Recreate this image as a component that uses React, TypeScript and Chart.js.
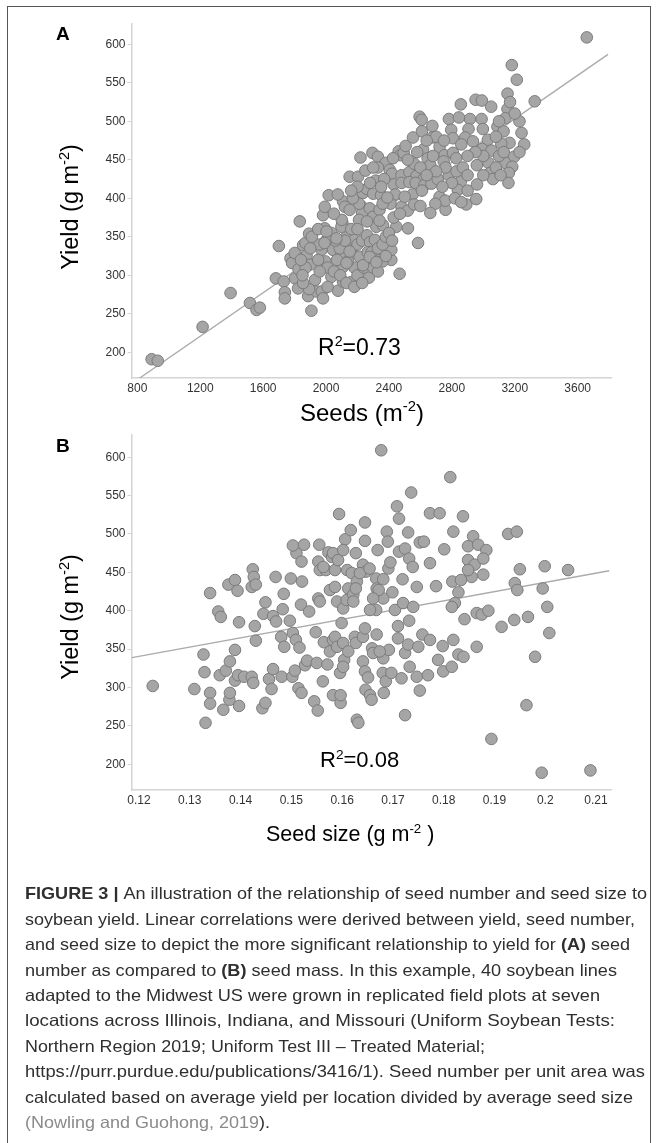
import React, { useEffect, useRef } from "react";
import { Chart, registerables } from "chart.js";

Chart.register(...registerables);

// ---------- Panel A: seeds per m2 vs yield ----------
const SEEDS = [
  891, 930, 1215, 1393, 1516, 1558, 1579, 1681, 1700, 1731, 1738, 1738, 1774, 1784, 1801, 1833, 1803, 1822, 1825, 1854,
  1869, 1876, 1892, 1886, 1907, 1901, 1930, 1939, 1973, 1981, 1981, 1992, 1992, 1996, 2034, 2034, 2076, 2045, 2098, 2108,
  2120, 2104, 2125, 2157, 2108, 2172, 1892, 1971, 2017, 1854, 2108, 2225, 2273, 2341, 2415, 2415, 2447, 2521, 2585, 2468,
  2161, 2214, 2087, 2098, 2150, 2203, 2219, 2250, 2295, 2330, 2316, 2235, 2229, 2229, 2278, 2299, 2320, 2362, 2379, 2405,
  2462, 2473, 2426, 2494, 2506, 2553, 2595, 2608, 2610, 2676, 2676, 2617, 2646, 2663, 2722, 2754, 2807, 2828, 2748, 2781,
  2796, 2807, 2857, 2915, 2989, 2951, 2991, 3050, 3154, 3141, 3090, 3243, 3129, 3167, 2906, 2997, 2885, 2934, 3029, 3114,
  2993, 3052, 3196, 3139, 3184, 3033, 3044, 3162, 3160, 3061, 2959, 2857, 2838, 2892, 2955, 2760, 2722, 2758, 2695, 2663,
  3181, 3213, 3154, 3327, 3658, 2420, 2480, 2530, 2575, 2620, 2430, 2480, 2530, 2570, 2625, 2670, 2710, 2260, 2300, 2350,
  2440, 2550, 2610, 2210, 2340, 2480, 2520, 2560, 2100, 2210, 2260, 2340, 2430, 2470, 2410, 2360, 2390, 2500, 2600, 2180,
  2200, 2230, 2260, 2280, 2310, 2265, 2290, 2330, 2360, 2380, 2400, 2420, 2180, 2200, 2240, 2270, 2300, 2330, 2360, 2380,
  2140, 2120, 2060, 2070, 2000, 1960, 1950, 2010, 2050, 2090, 2130, 2180, 2230, 2010, 1960, 1900, 1870, 1850, 1840, 1910,
  1950, 2050, 2150, 2170, 2160, 2200, 2280, 2330, 2370, 2350, 2300, 2200, 2160, 2075, 2780, 2800, 2830, 2870, 2900, 2760,
  2700, 2740, 2820, 2860, 2900, 2960, 3000, 3080, 3100, 3000, 2950, 2900, 2860, 2700, 2640, 2580, 2560, 2520, 2600, 2640,
  2680, 2750, 2845, 3230, 3200, 3170, 3260, 3230, 3100, 3080, 3110, 3130, 2003, 2066, 1990, 2150, 2130, 2235, 2278, 2320,
];
const YIELD_A = [
  191, 189, 233, 277, 264, 255, 258, 296, 338, 292, 278, 270, 322, 316, 329, 370, 296, 283, 308, 339,
  342, 326, 354, 273, 254, 314, 294, 279, 279, 270, 378, 389, 361, 318, 298, 355, 280, 333, 329, 396,
  389, 368, 349, 291, 311, 337, 282, 333, 404, 290, 292, 309, 297, 320, 320, 333, 363, 361, 342, 302,
  329, 324, 335, 363, 428, 428, 453, 436, 459, 454, 423, 407, 389, 381, 387, 376, 363, 365, 446, 437,
  461, 456, 452, 459, 468, 479, 506, 502, 487, 494, 479, 463, 452, 443, 467, 456, 459, 452, 448, 503,
  489, 478, 522, 503, 503, 528, 527, 519, 516, 504, 493, 485, 487, 472, 490, 490, 479, 474, 476, 471,
  464, 462, 454, 446, 441, 446, 433, 433, 420, 425, 443, 422, 411, 392, 399, 385, 402, 397, 393, 381,
  573, 554, 536, 526, 609, 432, 430, 434, 429, 425, 418, 420, 421, 420, 417, 419, 425, 412, 406, 404,
  405, 405, 410, 393, 385, 389, 384, 392, 372, 372, 370, 371, 375, 380, 393, 393, 401, 402, 390, 346,
  340, 345, 352, 343, 346, 330, 330, 335, 340, 350, 355, 345, 310, 300, 310, 315, 310, 305, 318, 325,
  318, 345, 345, 320, 345, 340, 320, 310, 305, 300, 290, 285, 290, 285, 305, 335, 310, 300, 320, 350,
  360, 380, 385, 400, 360, 360, 420, 440, 425, 415, 440, 415, 410, 405, 430, 420, 435, 440, 430, 440,
  435, 415, 400, 395, 410, 418, 430, 440, 455, 455, 460, 455, 470, 480, 475, 460, 445, 450, 440, 430,
  455, 475, 505, 500, 510, 525, 470, 460, 500, 480, 430, 460, 357, 348, 342, 331, 316, 313, 324, 317,
];

// ---------- Panel B: seed size vs yield ----------
const SEED_SIZE = [
  0.1227, 0.1309, 0.1327, 0.1329, 0.1331, 0.134, 0.134, 0.134, 0.1356, 0.1361, 0.1359, 0.1366, 0.1371, 0.1378, 0.1379, 0.1376, 0.1389, 0.1394, 0.1379, 0.1389,
  0.1389, 0.1397, 0.1395, 0.1397, 0.1407, 0.1422, 0.1425, 0.1424, 0.1426, 0.1422, 0.143, 0.1428, 0.143, 0.1443, 0.1449, 0.1449, 0.1445, 0.1456, 0.1461, 0.1464,
  0.1464, 0.147, 0.1469, 0.1481, 0.1483, 0.1485, 0.148, 0.1486, 0.1499, 0.1521, 0.1497, 0.1502, 0.1507, 0.1503, 0.1509, 0.1516, 0.151, 0.1503, 0.1525, 0.152,
  0.1514, 0.152, 0.1519, 0.1535, 0.1527, 0.1531, 0.1545, 0.1552, 0.1548, 0.155, 0.1555, 0.1553, 0.1556, 0.1553, 0.1556, 0.1562, 0.1571, 0.1564, 0.1576, 0.1582,
  0.1586, 0.159, 0.1568, 0.1576, 0.1573, 0.158, 0.1586, 0.1582, 0.1597, 0.1597, 0.1596, 0.1604, 0.1599, 0.159, 0.1602, 0.1609, 0.1606, 0.1617, 0.161, 0.1619,
  0.1627, 0.1629, 0.1632, 0.1629, 0.1625, 0.1627, 0.1641, 0.1645, 0.1641, 0.1645, 0.1651, 0.1646, 0.1655, 0.1641, 0.1647, 0.1645, 0.1645, 0.1659, 0.1661, 0.1668,
  0.1667, 0.1668, 0.1681, 0.167, 0.1681, 0.168, 0.1682, 0.1686, 0.1688, 0.169, 0.1692, 0.1697, 0.1612, 0.1622, 0.1691, 0.1695, 0.1699, 0.1704, 0.171, 0.1602,
  0.1612, 0.1674, 0.1717, 0.1733, 0.1747, 0.1724, 0.173, 0.175, 0.1758, 0.1773, 0.1789, 0.1799, 0.1798, 0.1819, 0.1816, 0.1829, 0.1839, 0.1865, 0.1753, 0.1724,
  0.1602, 0.1769, 0.1819, 0.1858, 0.1848, 0.1868, 0.1884, 0.1848, 0.1861, 0.1878, 0.1878, 0.1855, 0.1848, 0.1927, 0.1944, 0.195, 0.1999, 0.2045, 0.194, 0.1945,
  0.1995, 0.2004, 0.1939, 0.1966, 0.1914, 0.2008, 0.198, 0.1963, 0.1841, 0.1865, 0.1875, 0.1888, 0.1817, 0.1834, 0.1829, 0.1822, 0.1816, 0.1785, 0.1801, 0.1753,
  0.1761, 0.1773, 0.173, 0.1712, 0.1724, 0.1732, 0.1739, 0.1719, 0.1747, 0.1681, 0.1672, 0.1661, 0.1667, 0.1655, 0.172, 0.174, 0.171, 0.1732, 0.1677, 0.1813,
  0.1736, 0.1708, 0.1594, 0.1712, 0.1773, 0.1792, 0.1838, 0.1658, 0.1894, 0.1993, 0.2089, 0.1622, 0.1627, 0.1586, 0.1563, 0.1582, 0.1592, 0.1602, 0.1635, 0.1654,
];
const YIELD_B = [
  302, 298, 343, 320, 254, 293, 279, 423, 399, 392, 316, 271, 322, 284, 293, 434, 440, 426, 334, 349,
  309, 276, 316, 385, 314, 314, 306, 454, 444, 431, 434, 380, 361, 273, 280, 411, 396, 311, 298, 324,
  393, 386, 444, 314, 402, 422, 366, 353, 442, 438, 387, 314, 322, 371, 362, 352, 475, 485, 486, 464,
  299, 293, 408, 399, 329, 335, 282, 270, 372, 332, 486, 464, 453, 416, 412, 308, 330, 359, 347, 362,
  366, 353, 453, 427, 476, 470, 453, 290, 280, 290, 319, 336, 384, 412, 403, 414, 493, 505, 453, 449,
  475, 258, 254, 438, 366, 358, 366, 377, 334, 321, 313, 297, 290, 460, 451, 491, 515, 351, 345, 369,
  442, 429, 416, 479, 338, 319, 293, 308, 503, 490, 349, 319, 429, 421, 455, 463, 424, 401, 364, 358,
  347, 347, 312, 327, 314, 345, 356, 353, 369, 362, 336, 321, 354, 362, 327, 343, 340, 353, 296, 264,
  327, 316, 503, 497, 484, 486, 479, 466, 460, 468, 447, 444, 453, 500, 503, 454, 458, 453, 436, 427,
  429, 405, 388, 392, 379, 371, 340, 277, 389, 397, 395, 400, 438, 440, 424, 410, 405, 432, 480, 489,
  490, 462, 502, 477, 481, 468, 457, 441, 431, 441, 427, 416, 401, 401, 410, 405, 380, 387, 609, 574,
  554, 536, 526, 520, 527, 527, 523, 284, 233, 189, 192, 412, 429, 431, 457, 475, 466, 479, 449, 455,
];

// ---------- Fitted lines (end points) ----------
const FIT_A_X = [811, 3793];
const FIT_A_Y = [166, 587];
const FIT_B_X = [0.1186, 0.2126];
const FIT_B_Y = [339, 452];

// ---------- Ticks ----------
const SEEDS_TICKS = [800, 1200, 1600, 2000, 2400, 2800, 3200, 3600];
const SEEDS_TICK_LABELS = ["800", "1200", "1600", "2000", "2400", "2800", "3200", "3600"];
const SIZE_TICKS = [0.12, 0.13, 0.14, 0.15, 0.16, 0.17, 0.18, 0.19, 0.2, 0.21];
const SIZE_TICK_LABELS = ["0.12", "0.13", "0.14", "0.15", "0.16", "0.17", "0.18", "0.19", "0.2", "0.21"];
const YIELD_TICKS = [200, 250, 300, 350, 400, 450, 500, 550, 600];
const YIELD_TICK_LABELS = ["200", "250", "300", "350", "400", "450", "500", "550", "600"];

// ---------- Caption ----------
type Seg = { t: string; b?: boolean; g?: boolean };
const CAPTION_LINES: Seg[][] = [
  [{ t: "FIGURE 3 | ", b: true }, { t: "An illustration of the relationship of seed number and seed size to" }],
  [{ t: "soybean yield. Linear correlations were derived between yield, seed number," }],
  [{ t: "and seed size to depict the more significant relationship to yield for " }, { t: "(A)", b: true }, { t: " seed" }],
  [{ t: "number as compared to " }, { t: "(B)", b: true }, { t: " seed mass. In this example, 40 soybean lines" }],
  [{ t: "adapted to the Midwest US were grown in replicated field plots at seven" }],
  [{ t: "locations across Illinois, Indiana, and Missouri (Uniform Soybean Tests:" }],
  [{ t: "Northern Region 2019; Uniform Test III \u2013 Treated Material;" }],
  [{ t: "https://purr.purdue.edu/publications/3416/1). Seed number per unit area was" }],
  [{ t: "calculated based on average yield per location divided by average seed size" }],
  [{ t: "(Nowling and Guohong, 2019", g: true }, { t: ")." }],
];
const CAPTION_WIDTHS = [622, 610, 605, 592, 575, 590, 460, 620, 608, 245];

const FONT = '"Liberation Sans", Arial, Helvetica, sans-serif';

type PanelProps = {
  top: number;
  height: number;
  areaTop: number;
  areaBottom: number;
  areaLeft: number;
  areaRight: number;
  xs: number[];
  ys: number[];
  fitX: number[];
  fitY: number[];
  xMin: number;
  xMax: number;
  yMin: number;
  yMax: number;
  xTicks: number[];
  xLabels: string[];
};

function ScatterPanel(p: PanelProps) {
  const ref = useRef<HTMLCanvasElement | null>(null);
  useEffect(() => {
    if (!ref.current) return;
    const W = 657;
    const pts = p.xs.map((x, i) => ({ x, y: p.ys[i] }));
    const fit = p.fitX.map((x, i) => ({ x, y: p.fitY[i] }));
    const axisColor = "#d4d4d4";
    const tickFont = { family: FONT, size: 12 };
    const chart = new Chart(ref.current, {
      type: "scatter",
      data: {
        datasets: [
          {
            data: fit,
            showLine: true,
            borderColor: "#ababab",
            borderWidth: 1.4,
            pointRadius: 0,
            order: 2,
          } as any,
          {
            data: pts,
            backgroundColor: "#a5a5a5",
            borderColor: "#7b7b7b",
            borderWidth: 1,
            pointRadius: 5.8,
            order: 1,
          },
        ],
      },
      options: {
        responsive: false,
        animation: false,
        events: [],
        layout: {
          padding: { left: 0, top: p.areaTop, right: W - p.areaRight, bottom: 0 },
        },
        plugins: { legend: { display: false }, tooltip: { enabled: false } },
        scales: {
          x: {
            type: "linear",
            min: p.xMin,
            max: p.xMax,
            afterBuildTicks: (s: any) => {
              s.ticks = p.xTicks.map((v) => ({ value: v }));
            },
            afterFit: (s: any) => {
              s.height = p.height - p.areaBottom;
            },
            ticks: {
              font: tickFont,
              color: "#333",
              padding: 3,
              maxRotation: 0,
              autoSkip: false,
              callback: (_v: any, i: number) => p.xLabels[i],
            },
            grid: { drawOnChartArea: false, drawTicks: false },
            border: { display: true, color: axisColor, width: 1.5 },
          },
          y: {
            type: "linear",
            min: p.yMin,
            max: p.yMax,
            afterBuildTicks: (s: any) => {
              s.ticks = YIELD_TICKS.map((v) => ({ value: v }));
            },
            afterFit: (s: any) => {
              s.width = p.areaLeft;
            },
            ticks: {
              font: tickFont,
              color: "#333",
              padding: 2,
              autoSkip: false,
              callback: (_v: any, i: number) => YIELD_TICK_LABELS[i],
            },
            grid: { drawOnChartArea: false, drawTicks: true, tickLength: 4, color: axisColor },
            border: { display: true, color: axisColor, width: 1.5 },
          },
        },
      } as any,
    });
    return () => chart.destroy();
  }, []);
  return (
    <canvas
      ref={ref}
      width={657}
      height={p.height}
      style={{ position: "absolute", left: 0, top: p.top, width: 657, height: p.height }}
    />
  );
}

function Sup({ children }: { children: React.ReactNode }) {
  return (
    <span style={{ fontSize: "0.62em", position: "relative", top: "-0.62em", lineHeight: 0 }}>{children}</span>
  );
}

function Txt(props: { x: number; baseline: number; size: number; bold?: boolean; children: React.ReactNode }) {
  const top = props.baseline - 0.8465 * props.size;
  return (
    <div
      style={{
        position: "absolute",
        left: props.x,
        top,
        fontSize: props.size,
        lineHeight: 1,
        fontWeight: props.bold ? "bold" : "normal",
        whiteSpace: "nowrap",
        color: "#000",
      }}
    >
      {props.children}
    </div>
  );
}

function YTitle({ cx, cy }: { cx: number; cy: number }) {
  return (
    <div
      style={{
        position: "absolute",
        left: cx,
        top: cy,
        transform: "translate(-50%, -50%) rotate(-90deg)",
        fontSize: 23.5,
        lineHeight: 1,
        whiteSpace: "nowrap",
        color: "#000",
      }}
    >
      Yield (g m<Sup>-2</Sup>)
    </div>
  );
}

export default function App() {
  return (
    <div
      style={{
        position: "absolute",
        left: 0,
        top: 0,
        width: 657,
        height: 1143,
        overflow: "hidden",
        background: "#fff",
        fontFamily: FONT,
      }}
    >
      <div
        style={{
          position: "absolute",
          left: 7,
          top: 6,
          width: 644,
          height: 1160,
          border: "1.5px solid #555",
          boxSizing: "border-box",
        }}
      />
      <ScatterPanel
        top={0}
        height={430}
        areaTop={24}
        areaBottom={378}
        areaLeft={131.5}
        areaRight={611}
        xs={SEEDS}
        ys={YIELD_A}
        fitX={FIT_A_X}
        fitY={FIT_A_Y}
        xMin={763}
        xMax={3812}
        yMin={166.6}
        yMax={626.4}
        xTicks={SEEDS_TICKS}
        xLabels={SEEDS_TICK_LABELS}
      />
      <ScatterPanel
        top={420}
        height={440}
        areaTop={15}
        areaBottom={370}
        areaLeft={131.5}
        areaRight={611}
        xs={SEED_SIZE}
        ys={YIELD_B}
        fitX={FIT_B_X}
        fitY={FIT_B_Y}
        xMin={0.11852}
        xMax={0.21295}
        yMin={166.5}
        yMax={628.9}
        xTicks={SIZE_TICKS}
        xLabels={SIZE_TICK_LABELS}
      />

      <Txt x={56} baseline={40.5} size={19} bold>
        A
      </Txt>
      <Txt x={56} baseline={452} size={19} bold>
        B
      </Txt>

      <YTitle cx={71} cy={206.5} />
      <YTitle cx={71} cy={617} />

      <Txt x={300} baseline={421} size={24}>
        Seeds (m<Sup>-2</Sup>)
      </Txt>
      <Txt x={266} baseline={842} size={21.5}>
        Seed size (g m<Sup>-2</Sup> )
      </Txt>

      <Txt x={318} baseline={355} size={23}>
        R<Sup>2</Sup>=0.73
      </Txt>
      <Txt x={320} baseline={768} size={22}>
        R<Sup>2</Sup>=0.08
      </Txt>

      <svg
        width={657}
        height={273}
        style={{ position: "absolute", left: 0, top: 870 }}
      >
        {CAPTION_LINES.map((line, i) => (
          <text
            key={i}
            x={25}
            y={899.3 + i * 25.4 - 870}
            textLength={CAPTION_WIDTHS[i]}
            lengthAdjust="spacingAndGlyphs"
            style={{
              fontFamily: '"Liberation Sans Narrow", "Liberation Sans", Arial, sans-serif',
              fontSize: 16.5,
              whiteSpace: "pre",
            }}
            fill="#333"
          >
            {line.map((s, j) => (
              <tspan key={j} fontWeight={s.b ? "bold" : "normal"} fill={s.g ? "#8a8a8a" : "#2f2f2f"}>
                {s.t}
              </tspan>
            ))}
          </text>
        ))}
      </svg>
    </div>
  );
}
